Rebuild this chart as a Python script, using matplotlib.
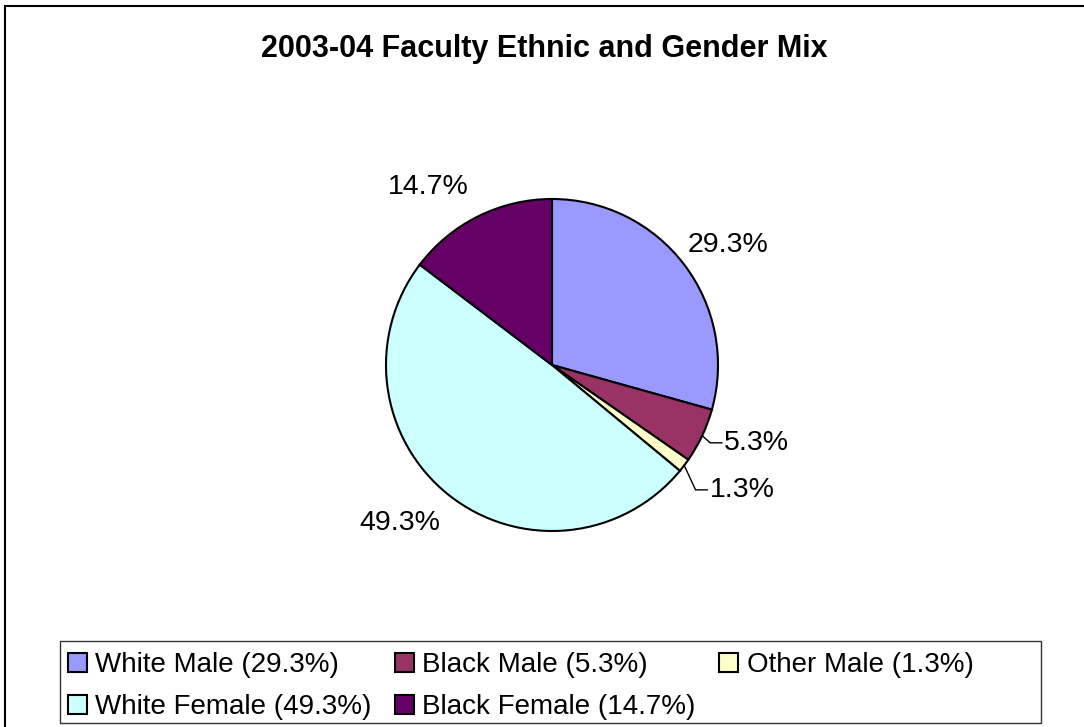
import numpy as np
import matplotlib
matplotlib.use("Agg")
import matplotlib.pyplot as plt
from matplotlib.patches import Patch, Rectangle

plt.rcParams['font.family'] = ['Liberation Sans', 'DejaVu Sans']

title = '2003-04 Faculty Ethnic and Gender Mix'
groups = ['White Male', 'Black Male', 'Other Male', 'White Female', 'Black Female']
counts = [22, 4, 1, 37, 11]
colors = ['#9999FF', '#993366', '#FFFFCC', '#CCFFFF', '#660066']

# label placement tweaks (angle shift in degrees, distance in radii)
label_shift = [-3, 4.4, 3.9, -5.5, 8.5]
label_dist = [1.285, 1.32, 1.37, 1.32, 1.307]

W, H = 1084, 727
fig = plt.figure(figsize=(W / 100, H / 100), dpi=100)

# chart area border (clipped on right / bottom like the original)
fig.patches.append(Rectangle((5 / W, -0.05), 1.2, 1.05 - 6 / H, fill=False,
                             edgecolor='black', linewidth=1.5,
                             transform=fig.transFigure, figure=fig))

fig.text(544 / W, 1 - 49 / H, title, ha='center', va='center',
         fontsize=22, fontweight='bold')

cx, cy, r = 552, 365, 166
ax = fig.add_axes([(cx - r) / W, 1 - (cy + r) / H, 2 * r / W, 2 * r / H])
wedges, _ = ax.pie(counts, colors=colors, startangle=90, counterclock=False,
                   wedgeprops=dict(edgecolor='black', linewidth=1.5))
ax.set_xlim(-1, 1)
ax.set_ylim(-1, 1)
ax.set_aspect('equal')
ax.axis('off')

total = float(sum(counts))
pcts = [c / total * 100 for c in counts]
texts = []
for i, w in enumerate(wedges):
    theta = np.deg2rad((w.theta1 + w.theta2) / 2 + label_shift[i])
    x = label_dist[i] * np.cos(theta)
    y = label_dist[i] * np.sin(theta)
    t = ax.text(x, y, '%.1f%%' % pcts[i], ha='center', va='center', fontsize=20.5)
    texts.append(t)

# leader lines for the small slices
fig.canvas.draw()
inv = ax.transData.inverted()
for i, w in enumerate(wedges):
    if pcts[i] > 6:
        continue
    mid = np.deg2rad((w.theta1 + w.theta2) / 2)
    bb = texts[i].get_window_extent()
    (x0, y0), (x1, y1) = inv.transform([[bb.x0, bb.y0], [bb.x1, bb.y1]])
    ty = (y0 + y1) / 2
    end_x = x0 - 0.015
    elbow_x = end_x - 0.07
    ax.plot([np.cos(mid), elbow_x, end_x], [np.sin(mid), ty, ty],
            color='black', linewidth=1, clip_on=False)

# legend: Excel fills rows first, matplotlib fills columns first
order = [0, 3, 1, 4, 2]
handles = [Patch(facecolor=colors[i], edgecolor='black', linewidth=1.5) for i in order]
labels = ['%s (%.1f%%)' % (groups[i], pcts[i]) for i in order]

fig.patches.append(Rectangle((60 / W, 1 - 723 / H), 981 / W, 82 / H, fill=False,
                             edgecolor='#333333', linewidth=1,
                             transform=fig.transFigure, figure=fig))
fig.legend(handles, labels, loc='upper left', bbox_to_anchor=(68 / W, 1 - 652 / H),
           ncol=3, frameon=False, fontsize=20, borderaxespad=0, borderpad=0,
           handlelength=0.68, handleheight=0.68, handletextpad=0.3,
           columnspacing=0.85, labelspacing=0.57)

fig.savefig('out.png', dpi=100)
